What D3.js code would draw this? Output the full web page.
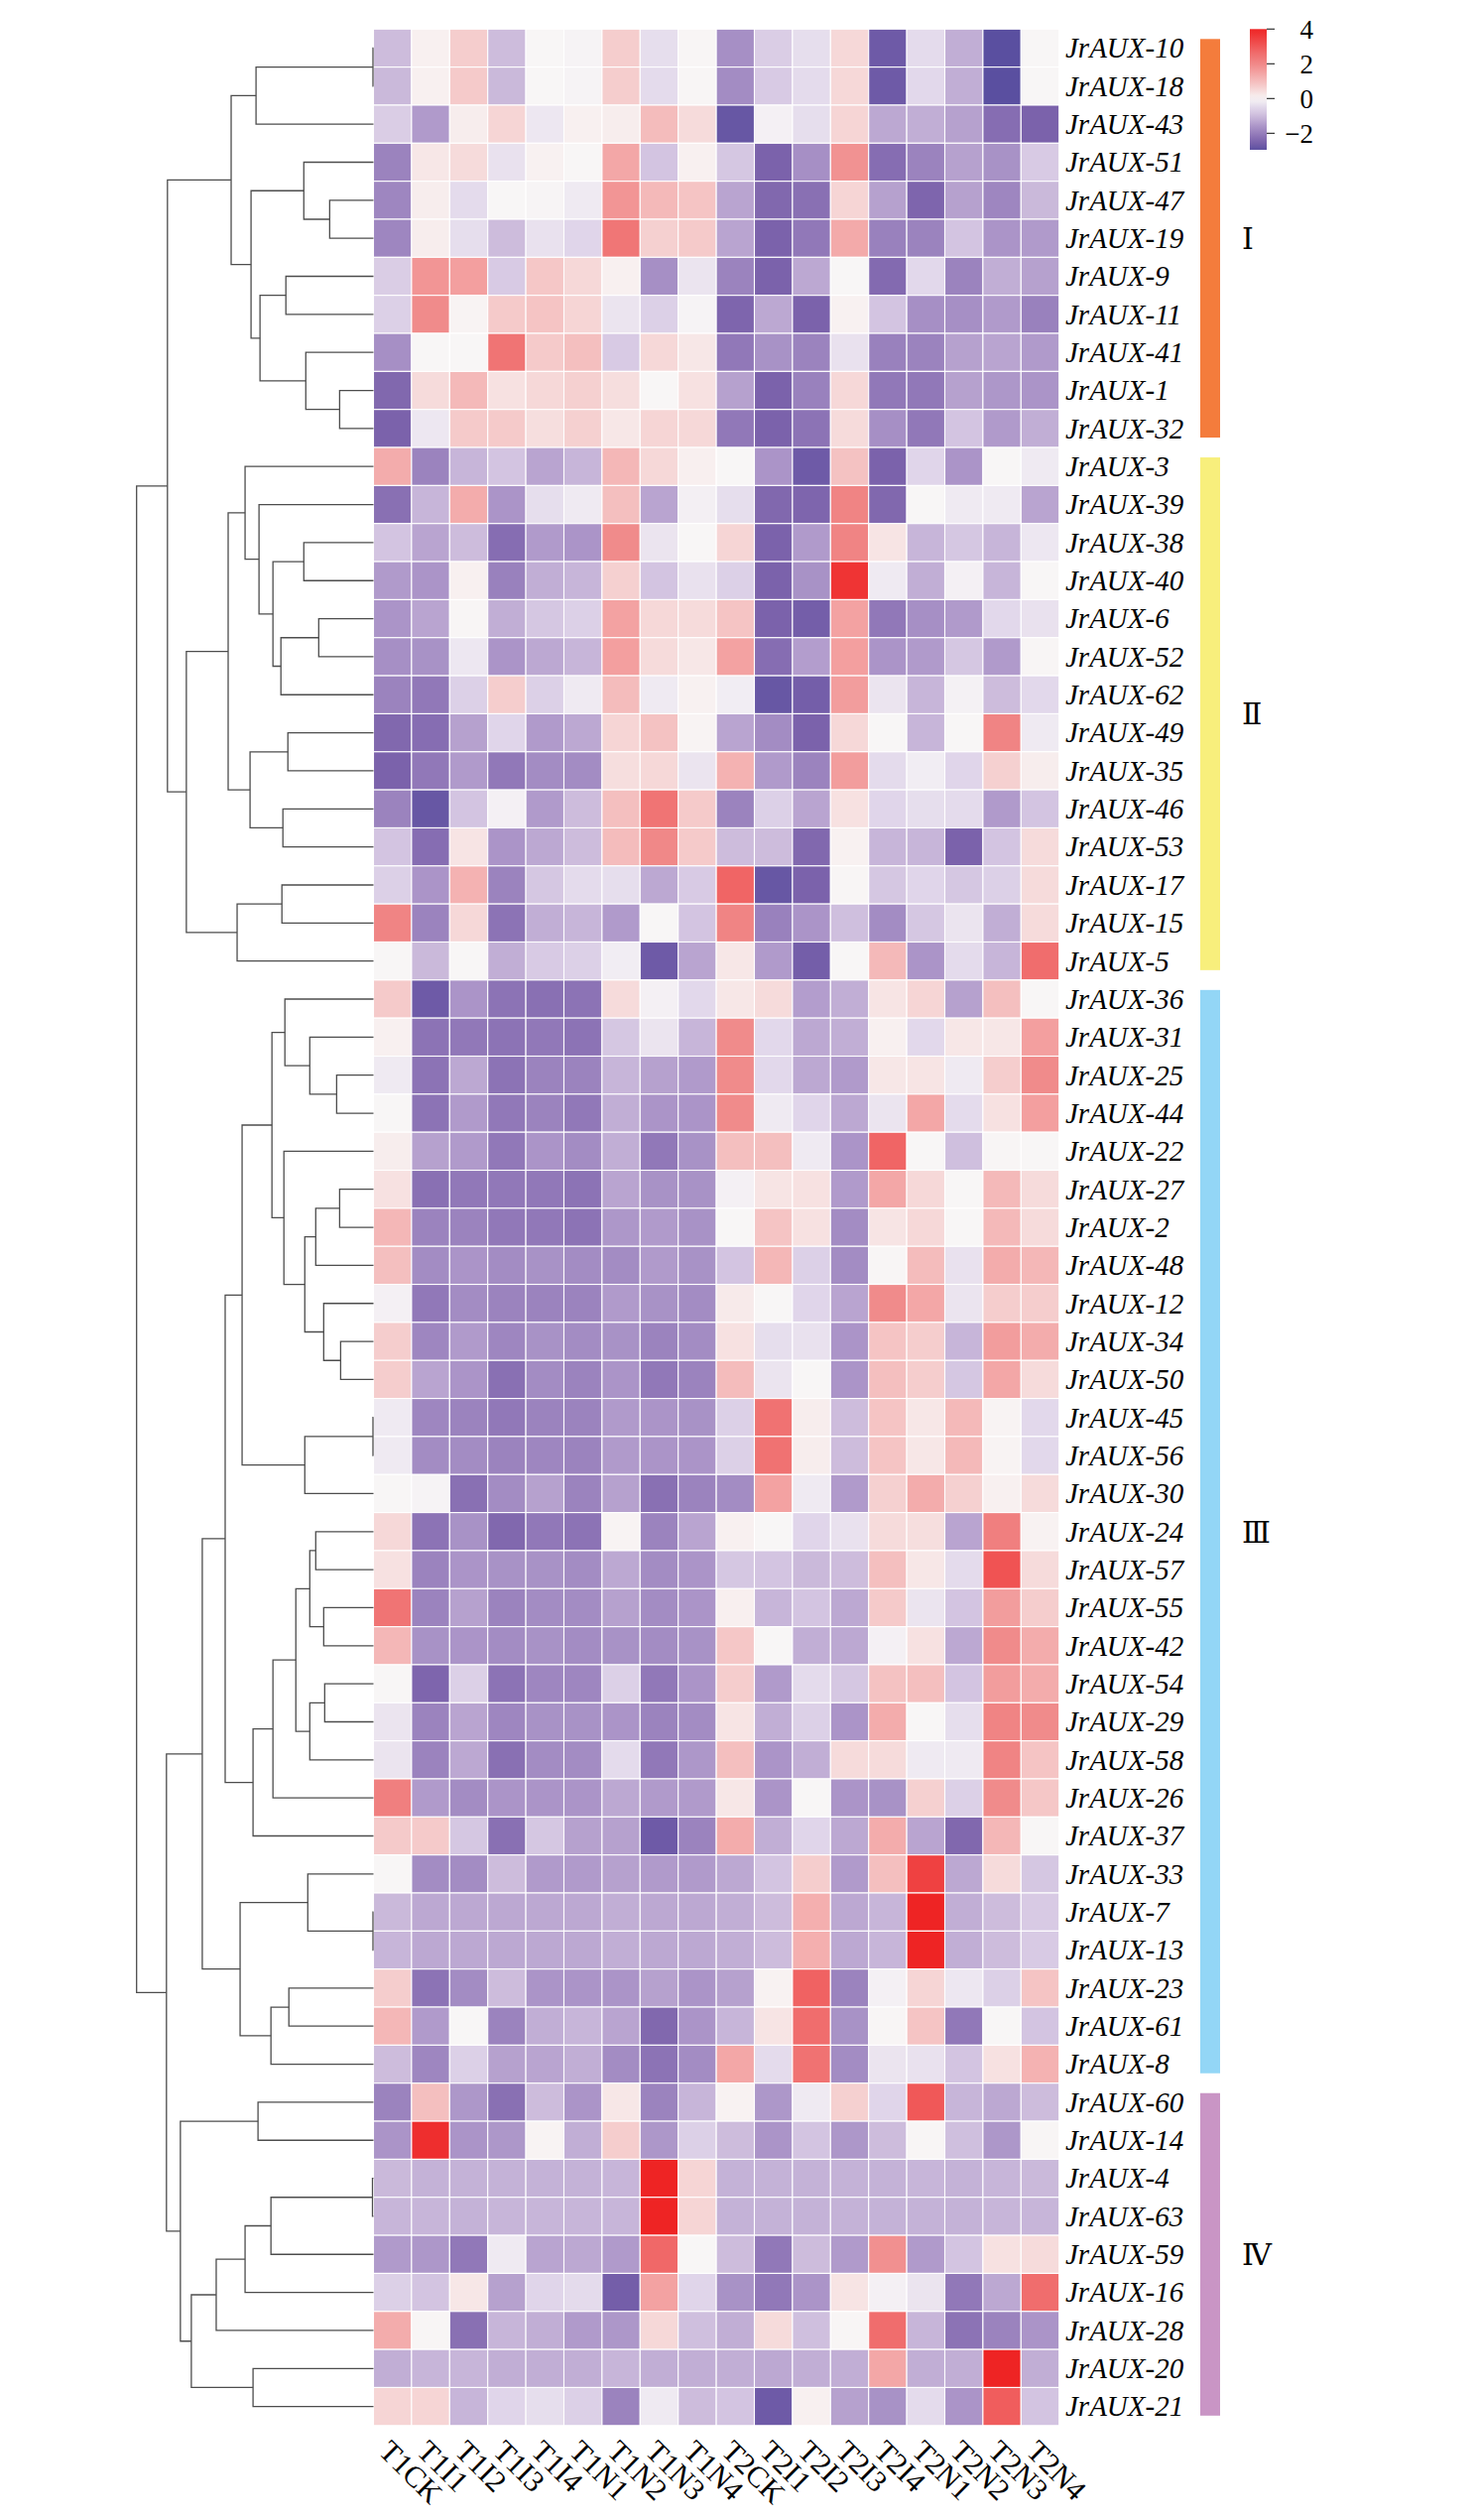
<!DOCTYPE html>
<html>
<head>
<meta charset="utf-8">
<script src="https://cdn.jsdelivr.net/npm/d3@7"></script>
<style>
  body { margin: 0; background: #fff; }
  svg { display: block; }
</style>
</head>
<body>
<svg id="chart" width="1490" height="2540"></svg>
<script>
// row order as drawn (top to bottom)
var genes = ["JrAUX-10","JrAUX-18","JrAUX-43","JrAUX-51","JrAUX-47","JrAUX-19","JrAUX-9","JrAUX-11","JrAUX-41","JrAUX-1","JrAUX-32",
  "JrAUX-3","JrAUX-39","JrAUX-38","JrAUX-40","JrAUX-6","JrAUX-52","JrAUX-62","JrAUX-49","JrAUX-35","JrAUX-46","JrAUX-53","JrAUX-17","JrAUX-15","JrAUX-5",
  "JrAUX-36","JrAUX-31","JrAUX-25","JrAUX-44","JrAUX-22","JrAUX-27","JrAUX-2","JrAUX-48","JrAUX-12","JrAUX-34","JrAUX-50","JrAUX-45","JrAUX-56","JrAUX-30",
  "JrAUX-24","JrAUX-57","JrAUX-55","JrAUX-42","JrAUX-54","JrAUX-29","JrAUX-58","JrAUX-26","JrAUX-37","JrAUX-33","JrAUX-7","JrAUX-13","JrAUX-23","JrAUX-61","JrAUX-8",
  "JrAUX-60","JrAUX-14","JrAUX-4","JrAUX-63","JrAUX-59","JrAUX-16","JrAUX-28","JrAUX-20","JrAUX-21"];

var samples = ["T1CK","T1I1","T1I2","T1I3","T1I4","T1N1","T1N2","T1N3","T1N4",
  "T2CK","T2I1","T2I2","T2I3","T2I4","T2N1","T2N2","T2N3","T2N4"];

// scaled expression, one array per gene, same order as genes
var values = [
  [-1.0,0.1,0.7,-1.0,0.0,-0.05,0.7,-0.4,0.02,-1.7,-0.7,-0.4,0.5,-2.7,-0.45,-1.2,-3.0,0.0],
  [-1.05,0.1,0.75,-1.05,0.0,-0.05,0.7,-0.45,0.02,-1.75,-0.75,-0.45,0.5,-2.7,-0.5,-1.2,-3.0,0.0],
  [-0.7,-1.5,0.15,0.55,-0.25,0.1,0.15,1.0,0.45,-2.8,-0.1,-0.4,0.55,-1.3,-1.2,-1.4,-2.3,-2.5],
  [-1.9,0.25,0.45,-0.35,0.08,0.0,1.4,-0.85,0.1,-0.8,-2.5,-1.7,1.8,-2.3,-1.9,-1.4,-1.65,-0.75],
  [-1.85,0.15,-0.45,0.0,-0.03,-0.2,1.75,1.05,0.85,-1.35,-2.4,-2.25,0.55,-1.4,-2.45,-1.4,-1.85,-1.05],
  [-1.85,0.15,-0.4,-1.0,-0.35,-0.55,2.4,0.65,0.75,-1.35,-2.5,-2.1,1.35,-1.95,-1.9,-0.85,-1.6,-1.5],
  [-0.7,1.75,1.55,-0.75,0.8,0.5,0.1,-1.7,-0.3,-1.9,-2.5,-1.3,0.0,-2.35,-0.5,-1.9,-1.2,-1.4],
  [-0.65,1.95,0.05,0.75,0.85,0.55,-0.3,-0.65,-0.05,-2.45,-1.3,-2.5,0.08,-0.85,-1.7,-1.7,-1.5,-1.95],
  [-1.7,0.0,0.0,2.45,0.75,0.95,-0.75,0.5,0.25,-2.1,-1.65,-1.9,-0.35,-1.95,-1.9,-1.4,-1.35,-1.5],
  [-2.4,0.45,1.05,0.35,0.5,0.65,0.4,0.0,0.35,-1.4,-2.5,-1.95,0.5,-2.1,-2.1,-1.4,-1.55,-1.6],
  [-2.5,-0.25,0.75,0.75,0.4,0.65,0.25,0.55,0.5,-2.1,-2.5,-2.2,0.45,-1.7,-2.1,-0.85,-1.5,-1.2],
  [1.3,-1.9,-1.1,-0.85,-1.35,-1.1,1.1,0.5,0.12,0.0,-1.6,-2.7,0.9,-2.5,-0.55,-1.6,0.0,-0.2],
  [-2.25,-1.1,1.3,-1.6,-0.4,-0.2,0.95,-1.35,-0.12,-0.4,-2.4,-2.45,2.1,-2.4,0.0,-0.2,-0.2,-1.35],
  [-0.85,-1.35,-1.0,-2.3,-1.5,-1.6,1.95,-0.3,0.0,0.55,-2.5,-1.5,2.1,0.3,-1.1,-0.8,-1.1,-0.25],
  [-1.5,-1.6,0.1,-1.95,-1.2,-1.1,0.65,-0.85,-0.35,-0.65,-2.5,-1.65,3.7,-0.2,-1.2,-0.1,-1.1,0.0],
  [-1.6,-1.35,0.02,-1.2,-0.8,-0.65,1.5,0.5,0.45,0.85,-2.5,-2.6,1.5,-2.1,-1.7,-1.5,-0.5,-0.35],
  [-1.7,-1.65,-0.25,-1.6,-1.3,-1.1,1.55,0.45,0.25,1.5,-2.3,-1.45,1.55,-1.6,-1.5,-0.8,-1.5,0.02],
  [-1.9,-2.1,-0.65,0.7,-0.65,-0.2,1.0,-0.2,0.08,-0.15,-2.8,-2.6,1.6,-0.3,-1.1,-0.08,-1.0,-0.5],
  [-2.4,-2.3,-1.4,-0.55,-1.5,-1.3,0.55,0.9,0.05,-1.35,-1.75,-2.5,0.5,0.0,-1.1,0.0,2.1,-0.2],
  [-2.5,-2.1,-1.5,-2.1,-1.75,-1.75,0.4,0.5,-0.3,1.2,-1.5,-1.9,1.6,-0.45,-0.15,-0.55,0.65,0.15],
  [-1.9,-2.8,-0.85,-0.1,-1.5,-1.0,0.95,2.45,0.75,-1.9,-0.65,-1.35,0.35,-0.55,-0.4,-0.45,-1.5,-0.85],
  [-0.85,-2.3,0.3,-1.6,-1.3,-1.0,1.0,2.0,0.75,-1.0,-1.0,-2.4,0.08,-1.1,-1.1,-2.5,-0.85,0.45],
  [-0.65,-1.6,1.2,-1.9,-0.8,-0.45,-0.4,-1.3,-0.75,2.75,-2.8,-2.5,0.02,-0.8,-0.55,-0.8,-0.65,0.45],
  [2.1,-1.9,0.5,-2.2,-1.2,-1.1,-1.5,0.0,-0.85,2.1,-1.95,-1.6,-0.95,-1.75,-0.8,-0.3,-1.2,0.45],
  [0.0,-1.05,0.0,-1.2,-0.75,-0.65,-0.15,-2.7,-1.35,0.25,-1.5,-2.6,0.0,1.05,-1.6,-0.45,-1.1,2.6],
  [0.75,-2.7,-1.6,-2.2,-2.25,-2.2,0.45,-0.1,-0.5,0.25,0.45,-1.45,-1.2,0.3,0.55,-1.4,0.95,0.0],
  [0.1,-2.2,-2.1,-2.2,-2.1,-2.2,-0.8,-0.3,-1.1,1.95,-0.5,-1.3,-1.2,0.1,-0.5,0.25,0.25,1.55],
  [-0.2,-2.2,-1.3,-2.2,-1.9,-1.9,-1.1,-1.4,-1.5,1.95,-0.5,-1.3,-1.5,0.25,0.3,-0.2,0.7,1.95],
  [0.0,-2.2,-1.5,-2.1,-1.9,-2.1,-1.2,-1.6,-1.6,1.95,-0.2,-0.55,-1.3,-0.3,1.4,-0.45,0.35,1.55],
  [0.15,-1.4,-1.5,-2.1,-1.6,-1.75,-1.2,-2.1,-1.65,0.95,0.95,-0.2,-1.6,2.75,0.0,-0.95,0.02,0.0],
  [0.35,-2.25,-2.1,-2.1,-2.1,-2.2,-1.35,-1.65,-1.65,-0.1,0.3,0.35,-1.5,1.4,0.5,0.0,1.05,0.45],
  [1.1,-1.9,-1.9,-2.1,-2.1,-2.2,-1.55,-1.5,-1.65,0.0,0.85,0.35,-1.75,0.3,0.5,0.0,1.05,0.45],
  [0.95,-1.75,-1.6,-1.75,-1.65,-1.75,-1.75,-1.5,-1.65,-0.85,1.1,-0.65,-1.75,0.02,1.0,-0.35,1.3,1.1],
  [-0.1,-2.1,-1.75,-1.9,-1.9,-1.9,-1.5,-1.65,-1.75,0.2,0.0,-0.55,-1.35,1.95,1.4,-0.3,0.7,0.7],
  [0.7,-1.85,-1.5,-1.85,-1.65,-1.75,-1.65,-1.9,-1.75,0.35,-0.4,-0.35,-1.6,0.85,0.7,-1.1,1.6,1.3],
  [0.7,-1.35,-1.6,-2.25,-1.75,-1.9,-1.6,-2.1,-1.9,1.0,-0.3,0.0,-1.6,0.95,0.7,-0.8,1.4,0.45],
  [-0.2,-1.85,-1.9,-2.1,-1.9,-1.9,-1.5,-1.6,-1.65,-0.65,2.5,0.15,-1.0,0.85,0.25,1.05,0.05,-0.5],
  [-0.2,-1.75,-1.75,-1.9,-1.85,-1.9,-1.5,-1.6,-1.6,-0.65,2.5,0.15,-1.0,0.85,0.25,1.05,0.05,-0.5],
  [0.0,-0.05,-2.25,-1.75,-1.4,-1.9,-1.4,-2.25,-1.9,-1.75,1.5,-0.2,-1.5,0.65,1.3,0.65,0.1,0.45],
  [0.5,-2.2,-1.65,-2.4,-2.1,-2.2,0.05,-1.9,-1.35,0.1,0.0,-0.55,-0.35,0.45,0.4,-1.35,2.2,0.07],
  [0.35,-1.9,-1.6,-1.65,-1.65,-1.75,-1.3,-1.75,-1.6,-0.8,-0.85,-1.05,-1.0,0.95,0.25,-0.45,3.1,0.45],
  [2.45,-1.9,-1.4,-1.9,-1.75,-1.75,-1.4,-1.75,-1.6,0.12,-1.1,-0.85,-1.3,0.75,-0.3,-0.85,1.6,0.7],
  [1.1,-1.65,-1.6,-1.75,-1.65,-1.75,-1.65,-1.75,-1.65,0.8,0.0,-1.2,-1.3,-0.1,0.35,-1.3,1.95,1.3],
  [0.0,-2.45,-0.65,-2.2,-1.85,-1.85,-0.65,-2.1,-1.6,0.7,-1.5,-0.45,-0.8,0.9,0.95,-0.85,1.6,1.3],
  [-0.3,-1.9,-1.35,-1.85,-1.65,-1.65,-1.6,-1.9,-1.75,0.3,-1.2,-0.65,-1.6,1.3,0.0,-0.4,2.1,1.95],
  [-0.3,-1.9,-1.3,-2.25,-1.75,-1.75,-0.45,-2.1,-1.55,0.95,-1.6,-1.2,0.45,0.45,-0.2,-0.2,2.1,0.85],
  [2.2,-1.5,-1.75,-1.6,-1.6,-1.6,-1.3,-1.5,-1.5,0.25,-1.6,0.0,-1.6,-1.65,0.65,-0.65,1.95,0.8],
  [0.75,0.75,-0.8,-2.25,-0.8,-1.4,-1.4,-2.7,-1.9,1.3,-1.2,-0.55,-1.3,1.3,-1.35,-2.4,1.1,0.0],
  [0.0,-1.75,-1.75,-1.0,-1.5,-1.5,-1.4,-1.5,-1.5,-1.3,-0.85,0.7,-1.5,0.95,3.45,-1.3,0.45,-0.8],
  [-1.05,-1.3,-1.3,-1.3,-1.3,-1.3,-1.2,-1.3,-1.3,-1.2,-1.0,1.25,-1.3,-1.1,4.0,-1.2,-1.0,-0.75],
  [-1.1,-1.3,-1.3,-1.3,-1.3,-1.3,-1.2,-1.3,-1.3,-1.2,-1.0,1.25,-1.3,-1.1,4.0,-1.2,-1.0,-0.75],
  [0.7,-2.2,-1.75,-1.0,-1.6,-1.6,-1.6,-1.4,-1.6,-1.4,0.07,2.8,-1.9,-0.1,0.55,-0.25,-0.65,0.85],
  [1.1,-1.5,0.0,-1.9,-1.2,-1.1,-1.35,-2.4,-1.6,-1.1,0.3,2.6,-1.65,0.02,0.85,-2.1,0.0,-0.85],
  [-1.0,-1.85,-0.65,-1.4,-1.35,-1.2,-1.75,-2.2,-1.75,1.4,-0.45,2.5,-1.75,-0.3,-0.35,-0.85,0.35,1.2],
  [-1.9,0.95,-1.55,-2.25,-1.0,-1.6,0.25,-1.9,-1.1,0.07,-1.55,-0.2,0.65,-0.55,3.0,-1.1,-1.3,-1.0],
  [-1.6,3.8,-1.6,-1.55,0.05,-1.2,0.7,-1.55,-0.65,-1.0,-1.6,-0.85,-1.55,-1.0,0.02,-0.95,-1.55,0.02],
  [-1.05,-1.15,-1.15,-1.15,-1.15,-1.15,-1.1,4.0,0.55,-1.15,-1.15,-1.15,-1.15,-1.15,-1.1,-1.15,-1.1,-1.05],
  [-1.1,-1.1,-1.15,-1.1,-1.1,-1.1,-1.1,4.0,0.55,-1.15,-1.15,-1.15,-1.15,-1.15,-1.15,-1.15,-1.1,-1.1],
  [-1.5,-1.55,-2.1,-0.2,-1.35,-1.3,-1.5,2.7,0.0,-1.0,-2.1,-1.0,-1.5,1.85,-1.5,-0.85,0.35,0.45],
  [-0.65,-0.85,0.25,-1.4,-0.55,-0.45,-2.6,1.5,-0.55,-1.65,-2.1,-1.6,0.3,-0.1,-0.3,-2.1,-1.3,2.6],
  [1.3,0.02,-2.25,-1.1,-1.2,-1.5,-1.55,0.5,-0.95,-1.2,0.45,-0.95,0.02,2.6,-1.1,-2.2,-1.9,-1.6],
  [-1.2,-1.1,-1.1,-1.2,-1.2,-1.2,-1.1,-1.2,-1.2,-1.2,-1.3,-1.2,-1.2,1.4,-1.2,-1.2,4.0,-1.2],
  [0.55,0.55,-1.1,-0.55,-0.4,-0.65,-1.9,-0.2,-1.0,-0.85,-2.7,0.1,-1.4,-1.65,-0.45,-1.6,2.9,-0.85]
];

// row clustering, hclust style: negative = row number, positive = earlier merge step
var mergeLeft  = [-1, 1, -5, -4, -7, -10, -9, 5, 4, 2,
  -14, -16, 12, 11, -13, -12, -19, -21, 17, 16, -23, 21, 20, 10,
  -28, -27, -26, -31, 28, -35, -34, 29, -30, 27, -37, 35, 34,
  -40, -42, 38, -44, 41, 40, 43, 44, 37, -50, -49, -52, 49, 48, 46,
  -55, -57, 54, -60, -61, -62, 57, 53, 52, 24];
var mergeRight = [-2, -3, -6, 3, -8, -11, 6, 7, 8, 9,
  -15, -17, -18, 13, 14, 15, -20, -22, 18, 19, -24, -25, 22, 23,
  -29, 25, 26, -32, -33, -36, 30, 31, 32, 33, -38, -39, 36,
  -41, -43, 39, -45, -46, 42, -47, -48, 45, -51, 47, -53, -54, 50, 51,
  -56, -58, -59, 55, 56, -63, 58, 59, 60, 61];
var mergeHeight = [0.05, 11.8, 4.4, 7.0, 8.8, 3.4, 6.8, 11.4, 12.3, 14.3,
  7.0, 5.5, 9.3, 10.1, 11.5, 12.9, 8.6, 9.1, 12.4, 14.6, 9.2, 13.7, 18.8, 20.7,
  3.7, 6.4, 8.9, 3.4, 5.8, 3.3, 5.0, 6.9, 9.0, 10.2, 0.05, 6.9, 13.2,
  5.8, 5.0, 6.4, 4.9, 6.4, 7.8, 10.1, 12.1, 14.9, 0.05, 6.6, 8.5, 10.3, 13.4, 17.2,
  11.6, 0.1, 10.3, 12.9, 15.8, 12.1, 18.3, 19.4, 20.8, 23.8];

var groupNames  = ["\u2160", "\u2161", "\u2162", "\u2163"];
var groupSizes  = [11, 14, 29, 9];
var groupColors = ["#f47c3c", "#f8ef7c", "#93d6f6", "#c995c5"];

var legendTicks = [4, 2, 0, -2];
var colorStops  = [-3, -2.5, -2.1, -1.5, -1.0, -0.5, 0, 0.5, 1.0, 1.5, 2.0, 2.5, 3.0, 4.0];
var colorList   = ["#5a4fa0", "#7b62ab", "#9178b8", "#b09acb", "#cdbcdc", "#e2d8eb", "#f8f6f6",
                   "#f6d8d8", "#f4bcbc", "#f3a2a2", "#f08888", "#f07272", "#f05858", "#ee2424"];

var svg = d3.select("#chart");
var serif = "'Liberation Serif', 'Times New Roman', serif";

var color = d3.scaleLinear().domain(colorStops).range(colorList);

var x = d3.scaleBand().domain(samples).range([376.5, 376.5 + 18 * 38.4]);
var y = d3.scaleBand().domain(genes).range([29.3, 2444.8]);

// heatmap cells
var cells = [];
genes.forEach(function(g, i) {
  samples.forEach(function(s, j) {
    cells.push({gene: g, sample: s, v: values[i][j]});
  });
});

svg.append("g").selectAll("rect")
    .data(cells)
  .enter().append("rect")
    .attr("x", function(d) { return x(d.sample); })
    .attr("y", function(d) { return y(d.gene); })
    .attr("width", x.bandwidth())
    .attr("height", y.bandwidth())
    .attr("fill", function(d) { return color(d.v); })
    .attr("stroke", "#ffffff")
    .attr("stroke-width", 1.1);

// row labels
svg.append("g").selectAll("text")
    .data(genes)
  .enter().append("text")
    .attr("x", 1074)
    .attr("y", function(d) { return y(d) + y.bandwidth() / 2; })
    .attr("dy", "0.34em")
    .style("font-family", serif)
    .style("font-style", "italic")
    .style("font-size", "29px")
    .text(function(d) { return d; });

// column labels, turned 45 degrees
svg.append("g").selectAll("text")
    .data(samples)
  .enter().append("text")
    .attr("transform", function(d) {
      return "translate(" + (x(d) + x.bandwidth() / 2) + ",2457) rotate(45)";
    })
    .attr("dominant-baseline", "hanging")
    .style("font-family", serif)
    .style("font-size", "30px")
    .text(function(d) { return d; });

// dendrogram
var hx = d3.scaleLinear().domain([0, 23.8]).range([376.5, 137.7]);
var nodeY = [];
function node(id) {
  if (id < 0) {
    var g = genes[-id - 1];
    return {y: y(g) + y.bandwidth() / 2, h: 0};
  }
  return {y: nodeY[id - 1], h: mergeHeight[id - 1]};
}
var links = [];
for (var k = 0; k < mergeHeight.length; k++) {
  var a = node(mergeLeft[k]), b = node(mergeRight[k]);
  var h = mergeHeight[k];
  nodeY[k] = (a.y + b.y) / 2;
  links.push("M" + hx(a.h) + "," + a.y + "H" + hx(h) + "V" + b.y + "H" + hx(b.h));
}
svg.append("g").selectAll("path")
    .data(links)
  .enter().append("path")
    .attr("d", function(d) { return d; })
    .attr("fill", "none")
    .attr("stroke", "#4d4d4d")
    .attr("stroke-width", 1.3);

// group bars and numerals
var start = 0;
groupSizes.forEach(function(n, i) {
  var top = y(genes[start]);
  var bottom = y(genes[start + n - 1]) + y.bandwidth();
  svg.append("rect")
      .attr("x", 1210)
      .attr("y", top + 10)
      .attr("width", 20)
      .attr("height", bottom - top - 20)
      .attr("fill", groupColors[i]);
  svg.append("text")
      .attr("x", 1252)
      .attr("y", (top + bottom) / 2)
      .attr("dy", "0.36em")
      .style("font-family", "'DejaVu Serif', serif")
      .style("font-size", "30px")
      .text(groupNames[i]);
  start += n;
});

// colour legend
var ly = d3.scaleLinear().domain([-2.95, 4]).range([151, 29.3]);
var defs = svg.append("defs");
var grad = defs.append("linearGradient")
    .attr("id", "legendGrad")
    .attr("x1", 0).attr("y1", 1).attr("x2", 0).attr("y2", 0);
d3.range(0, 1.0001, 0.05).forEach(function(t) {
  var v = -2.95 + t * (4 + 2.95);
  grad.append("stop").attr("offset", t).attr("stop-color", color(v));
});
svg.append("rect")
    .attr("x", 1260)
    .attr("y", ly(4))
    .attr("width", 17)
    .attr("height", ly(-2.95) - ly(4))
    .attr("fill", "url(#legendGrad)");

var lt = svg.append("g").selectAll("g")
    .data(legendTicks)
  .enter().append("g");
lt.append("line")
    .attr("x1", 1277).attr("x2", 1285)
    .attr("y1", function(d) { return ly(d); })
    .attr("y2", function(d) { return ly(d); })
    .attr("stroke", "#333")
    .attr("stroke-width", 1.2);
lt.append("text")
    .attr("x", 1324)
    .attr("y", function(d) { return ly(d); })
    .attr("dy", "0.35em")
    .attr("text-anchor", "end")
    .style("font-family", serif)
    .style("font-size", "27px")
    .text(function(d) { return d < 0 ? "\u2212" + Math.abs(d) : d; });
</script>
</body>
</html>
